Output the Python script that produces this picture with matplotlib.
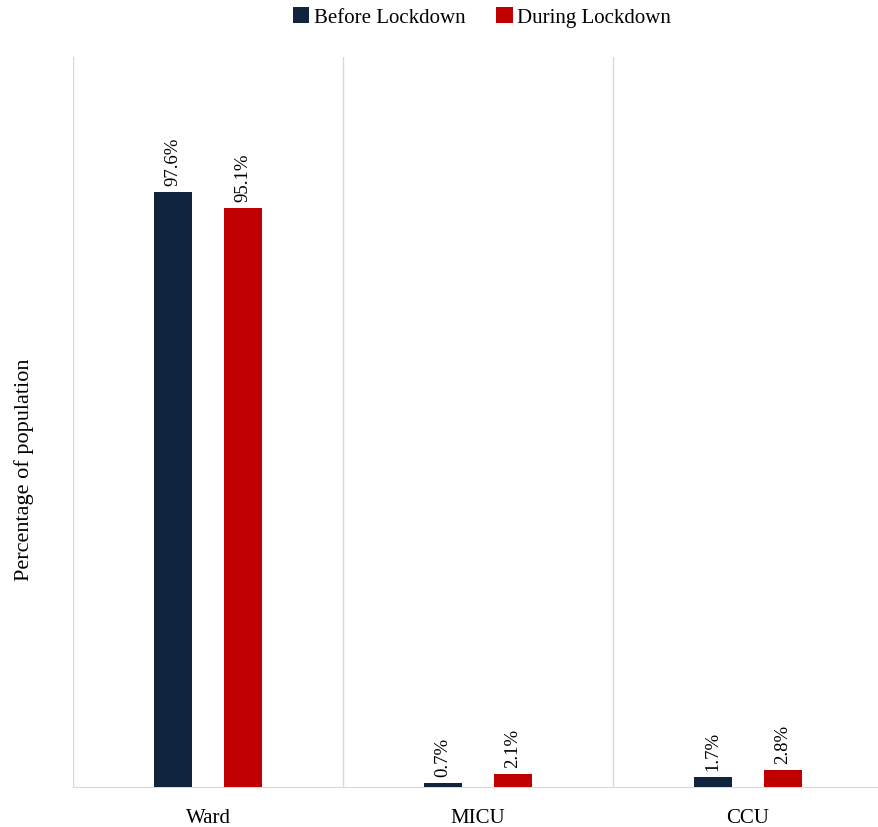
import numpy as np
import matplotlib.pyplot as plt

plt.rcParams['font.family'] = ['Liberation Serif', 'DejaVu Serif']

categories = ['Ward', 'MICU', 'CCU']
before = [97.6, 0.7, 1.7]
during = [95.1, 2.1, 2.8]
series_names = ['Before Lockdown', 'During Lockdown']
colors = ['#10243e', '#c00000']

fig = plt.figure(figsize=(8.79, 8.28), dpi=100)
ax = fig.add_axes([73 / 879, 40 / 828, 810 / 879, 730 / 828])

x = np.arange(len(categories))
w = 0.14
off = 0.13
b1 = ax.bar(x - off, before, w, color=colors[0], label=series_names[0], zorder=3)
b2 = ax.bar(x + off, during, w, color=colors[1], label=series_names[1], zorder=3)

for bars, vals in ((b1, before), (b2, during)):
    for r, v in zip(bars, vals):
        ax.annotate(f'{v:.1f}%', (r.get_x() + r.get_width() / 2, v),
                    xytext=(0, 5), textcoords='offset points',
                    ha='center', va='bottom', rotation=90, fontsize=13.5)

ax.set_xlim(-0.5, 2.5)
ax.set_ylim(0, 119.8)
ax.set_xticks(x)
ax.set_xticklabels(categories, fontsize=15)
ax.set_yticks([])
ax.tick_params(axis='x', length=0, pad=15)
for bx in [-0.5, 0.5, 1.5, 2.5]:
    ax.axvline(bx, color='#d9d9d9', lw=1, zorder=1)
for s in ['top', 'right', 'left']:
    ax.spines[s].set_visible(False)
ax.spines['bottom'].set_color('#d9d9d9')
ax.set_ylabel('Percentage of population', fontsize=16)
ax.yaxis.set_label_coords(-0.048, 0.436)

fig.legend(handles=[b1, b2], loc='center', bbox_to_anchor=(482 / 879, 1 - 18 / 828),
           ncol=2, frameon=False, fontsize=15, handlelength=0.8, handleheight=0.8,
           handletextpad=0.2, columnspacing=1.5)

fig.savefig('out.png', dpi=100)
